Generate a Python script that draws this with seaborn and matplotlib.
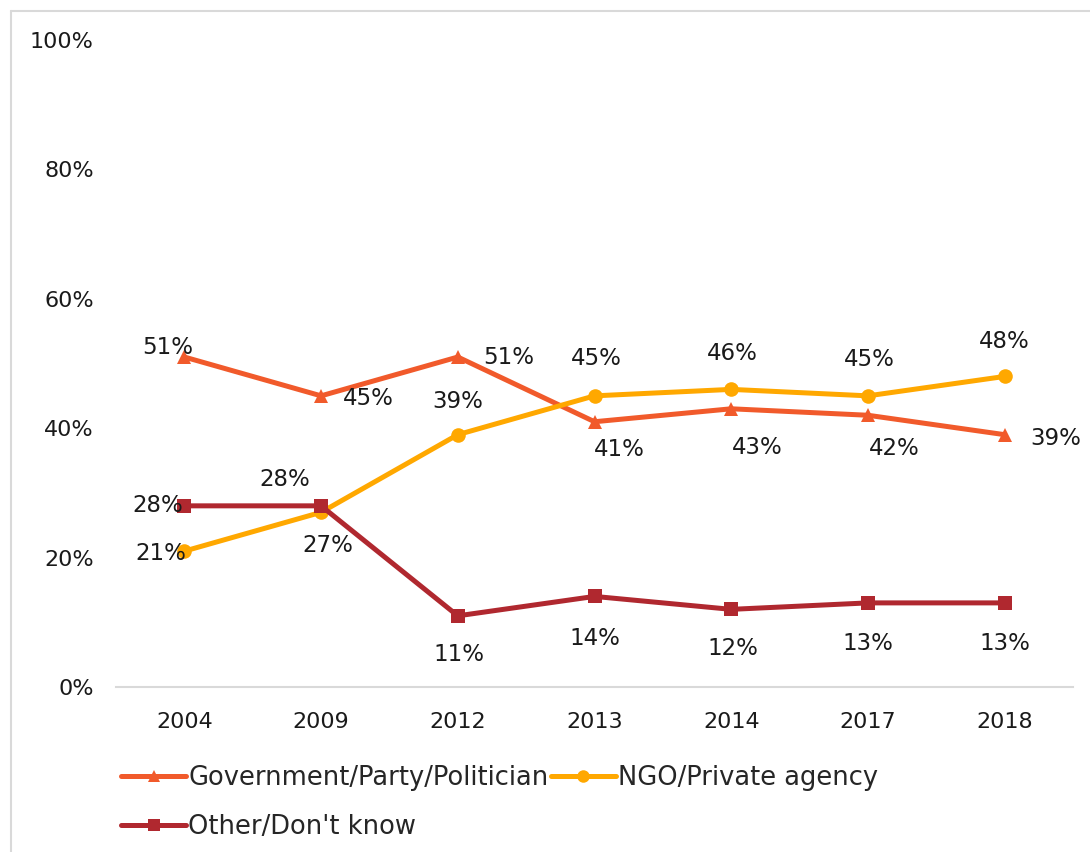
import matplotlib
matplotlib.use("Agg")
import matplotlib.pyplot as plt
import seaborn as sns
import pandas as pd
from matplotlib.lines import Line2D

years = ["2004", "2009", "2012", "2013", "2014", "2017", "2018"]
government = [51, 45, 51, 41, 43, 42, 39]
ngo = [21, 27, 39, 45, 46, 45, 48]
other = [28, 28, 11, 14, 12, 13, 13]
series_names = ["Government/Party/Politician", "NGO/Private agency", "Other/Don't know"]
y_ticks = [0, 20, 40, 60, 80, 100]

colors = ["#F15A2B", "#FFA800", "#B0282F"]
markers = ["^", "o", "s"]

# label offsets (points) for each series' value labels
label_offsets = {
    0: [(-12, 7), (34, -2), (37, 0), (18, -20), (19, -28), (19, -24), (37, -3)],
    1: [(-17, -2), (5, -24), (0, 24), (1, 27), (1, 26), (1, 26), (0, 25)],
    2: [(-19, 0), (-26, 19), (1, -28), (0, -30), (1, -28), (0, -29), (0, -29)],
}

df = pd.concat([
    pd.DataFrame({"year": years, "value": vals, "series": name})
    for name, vals in zip(series_names, [government, ngo, other])
])

sns.set_theme(style="white")
plt.rcParams["font.family"] = ["DejaVu Sans"]

fig = plt.figure(figsize=(10.9, 8.52), dpi=100)
ax = fig.add_axes([116 / 1090, 1 - 687 / 852, (1073 - 116) / 1090, (687 - 40) / 852])

sns.lineplot(data=df, x="year", y="value", hue="series", style="series",
             palette=colors, markers=markers, dashes=False, linewidth=3.6,
             markersize=10.5, markeredgewidth=0, sort=False, ax=ax, legend=False)

ax.set_xlim(-0.5, len(years) - 0.5)
ax.set_ylim(0, 100)
ax.set_yticks(y_ticks)
ax.set_yticklabels([f"{v}%" for v in y_ticks], fontsize=16, color="#1a1a1a")
ax.set_xticks(range(len(years)))
ax.set_xticklabels(years, fontsize=16, color="#1a1a1a")
ax.tick_params(axis="y", length=0, pad=16)
ax.tick_params(axis="x", length=0, pad=18)
ax.set_xlabel("")
ax.set_ylabel("")
for side in ["top", "right", "left"]:
    ax.spines[side].set_visible(False)
ax.spines["bottom"].set_color("#D9D9D9")
ax.spines["bottom"].set_linewidth(1.5)

for i, vals in enumerate([government, ngo, other]):
    for j, v in enumerate(vals):
        dx, dy = label_offsets[i][j]
        ax.annotate(f"{v}%", (j, v), xytext=(dx, dy), textcoords="offset points",
                    ha="center", va="center", fontsize=16.5, color="#1a1a1a")

handles = [Line2D([], [], color=c, marker=m, linewidth=3.6, markersize=9,
                  markeredgewidth=0) for c, m in zip(colors, markers)]
order = [0, 2, 1]
fig.legend([handles[k] for k in order], [series_names[k] for k in order],
           ncol=2, loc="upper left", bbox_to_anchor=(108 / 1090, 1 - 752 / 852),
           frameon=False, fontsize=18.5, handlelength=2.55, handletextpad=0.08,
           columnspacing=0.08, labelspacing=0.9, borderpad=0)

# chart frame
fig.add_artist(Line2D([11 / 1090, 1], [1 - 11 / 852, 1 - 11 / 852],
                      transform=fig.transFigure, color="#D9D9D9", linewidth=1.5))
fig.add_artist(Line2D([11 / 1090, 11 / 1090], [0, 1 - 11 / 852],
                      transform=fig.transFigure, color="#D9D9D9", linewidth=1.5))

fig.savefig("out.png", dpi=100, facecolor="white")
